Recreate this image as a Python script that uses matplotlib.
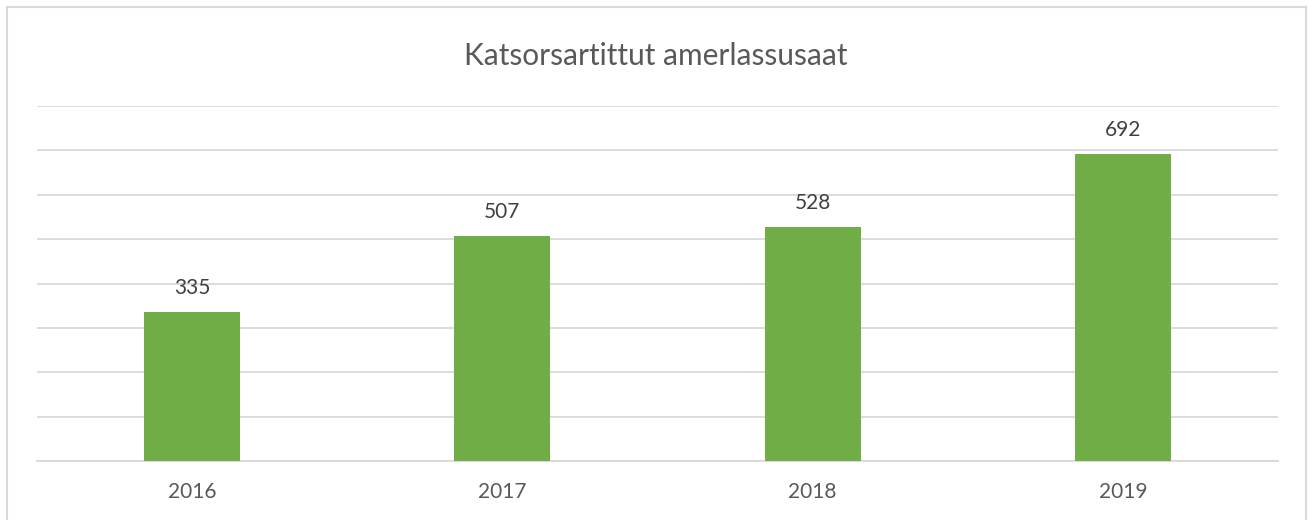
import matplotlib
matplotlib.use("Agg")
import matplotlib.pyplot as plt
from matplotlib.patches import Rectangle

years = ["2016", "2017", "2018", "2019"]
counts = [335, 507, 528, 692]
title = "Katsorsartittut amerlassusaat"

W, H = 1309, 520
fig = plt.figure(figsize=(W / 100, H / 100), dpi=100)

# light frame around the chart area
fig.patches.append(Rectangle((7 / W, -0.05), (1306 - 7) / W, 1.05 - 7 / H,
                             transform=fig.transFigure, fill=False,
                             edgecolor="#d9d9d9", linewidth=1.5))

ax = fig.add_axes([37 / W, 59 / H, (1278 - 37) / W, (461 - 106) / H])
x = range(len(years))
bars = ax.bar(x, counts, width=0.31, color="#70ad47", zorder=3)

ax.set_xlim(-0.5, 3.5)
ax.set_ylim(0, 800)
ax.set_yticks(range(0, 801, 100))
ax.yaxis.grid(True, color="#d9d9d9", linewidth=1.3, zorder=0)
ax.tick_params(axis="y", left=False, labelleft=False)
ax.tick_params(axis="x", length=0, pad=15, labelsize=15, labelcolor="#595959")
ax.set_xticks(list(x))
ax.set_xticklabels(years, fontfamily=["Lato", "DejaVu Sans"])
for s in ["top", "right", "left"]:
    ax.spines[s].set_visible(False)
ax.spines["bottom"].set_color("#d9d9d9")
ax.spines["bottom"].set_linewidth(1.3)

for b, v in zip(bars, counts):
    ax.annotate(str(v), (b.get_x() + b.get_width() / 2, v), xytext=(0, 10),
                textcoords="offset points", ha="center", va="bottom",
                fontsize=15, color="#404040", fontfamily=["Lato", "DejaVu Sans"])

fig.text(0.5 + 1 / W, (H - 56) / H, title, ha="center", va="center",
         fontsize=21.5, color="#595959", fontfamily=["Lato", "DejaVu Sans"])

fig.savefig("out.png", dpi=100)
